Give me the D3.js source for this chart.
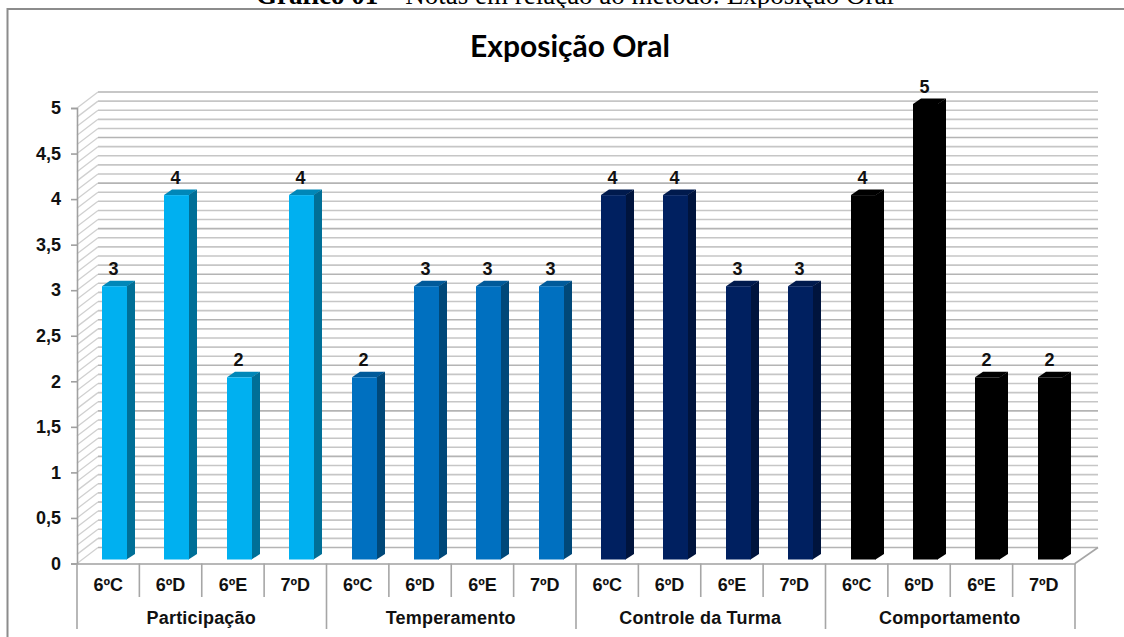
<!DOCTYPE html>
<html>
<head>
<meta charset="utf-8">
<script src="https://cdn.jsdelivr.net/npm/d3@7"></script>
<style>
  html, body { margin: 0; padding: 0; background: #fff; overflow: hidden; }
  text { font-family: "Liberation Sans", Arial, sans-serif; font-weight: bold; fill: #111; }
</style>
</head>
<body>
<div id="chart"></div>
<script>
const groups = ["Participação", "Temperamento", "Controle da Turma", "Comportamento"];
const classes = ["6ºC", "6ºD", "6ºE", "7ºD"];
const participacao = [3, 4, 2, 4];
const temperamento = [2, 3, 3, 3];
const controle = [4, 4, 3, 3];
const comportamento = [4, 5, 2, 2];
const yTicks = [0, 0.5, 1, 1.5, 2, 2.5, 3, 3.5, 4, 4.5, 5];
const minorTicks = d3.range(0, 51).map(d => d / 10);

// front, side and top colour of each group
const fronts = ["#00b0f0", "#0070c0", "#002060", "#000000"];
const sides = ["#006f97", "#004879", "#00143d", "#000000"];
const tops = ["#0087b8", "#005a9a", "#001a4d", "#000000"];

const seriesValues = [participacao, temperamento, controle, comportamento];

const svgWidth = 1124,
  svgHeight = 637,
  left = 77,
  right = 1075,
  floorY = 563.5,
  topY = 108,
  depthX = 21,
  depthY = -16,
  barW = 25,
  barDepthX = 8,
  barDepthY = -5.5,
  barLift = -4;

const rows = [];
groups.forEach((g, gi) => {
  classes.forEach((c, ci) => {
    rows.push({ key: g + "|" + c, group: g, gi: gi, label: c, value: seriesValues[gi][ci] });
  });
});

const x = d3.scaleBand().domain(rows.map(d => d.key)).range([left, right]).padding(0);
const y = d3.scaleLinear().domain([0, 5]).range([floorY, topY]);

const svg = d3.select("#chart").append("svg")
  .attr("width", svgWidth)
  .attr("height", svgHeight);

// caption cut off by the page edge, frame without a right side
svg.append("text")
  .attr("x", 256)
  .attr("y", 4)
  .style("font-family", "'Liberation Serif', serif")
  .style("font-size", "27px")
  .style("font-weight", "normal")
  .style("fill", "#000")
  .html('<tspan font-weight="bold">Gráfico 01</tspan> – Notas em relação ao método: Exposição Oral');

svg.append("path")
  .attr("d", "M7.5,637V9H1124")
  .attr("fill", "none")
  .attr("stroke", "#8c8c8c")
  .attr("stroke-width", 2);

svg.append("text")
  .attr("x", 570)
  .attr("y", 57)
  .attr("text-anchor", "middle")
  .style("font-family", "Lato, sans-serif")
  .style("font-size", "30px")
  .style("fill", "#000")
  .text("Exposição Oral");

// wall gridlines, side wall and floor
const grid = svg.append("g");
minorTicks.forEach(t => {
  const major = Math.round(t * 10) % 5 === 0;
  grid.append("path")
    .attr("d", `M${left},${y(t)}L${left + depthX},${y(t) + depthY}`)
    .attr("fill", "none")
    .attr("stroke", "#d0d0d0")
    .attr("stroke-width", 1.3);
  grid.append("path")
    .attr("d", `M${left + depthX},${y(t) + depthY}H${right + depthX + 2}`)
    .attr("fill", "none")
    .attr("stroke", major ? "#b4b4b4" : "#c6c6c6")
    .attr("stroke-width", 1.6);
});
grid.append("path")
  .attr("d", `M${right},${floorY}L${right + depthX + 2},${floorY + depthY}`)
  .attr("fill", "none")
  .attr("stroke", "#a6a6a6")
  .attr("stroke-width", 1.6);

// bars
const bars = svg.append("g").selectAll("g").data(rows).enter().append("g");
const bx0 = d => Math.round(x(d.key) + 25);
const by0 = d => y(d.value) + barLift;
const bottom = y(0) + barLift;

bars.append("path")
  .attr("fill", d => tops[d.gi])
  .attr("d", d => `M${bx0(d)},${by0(d)}l${barDepthX},${barDepthY}h${barW}l${-barDepthX},${-barDepthY}Z`);
bars.append("path")
  .attr("fill", d => sides[d.gi])
  .attr("d", d => `M${bx0(d) + barW - 0.5},${by0(d)}l${barDepthX + 0.5},${barDepthY}V${bottom + barDepthY}l${-barDepthX - 0.5},${-barDepthY}Z`);
bars.append("rect")
  .attr("fill", d => fronts[d.gi])
  .attr("x", d => bx0(d))
  .attr("y", d => by0(d))
  .attr("width", barW)
  .attr("height", d => bottom - by0(d));
bars.append("text")
  .attr("x", d => bx0(d) + barW / 2 - 1)
  .attr("y", d => by0(d) - 11)
  .attr("text-anchor", "middle")
  .style("font-size", "18px")
  .text(d => d.value);

// y axis
const yAxis = d3.axisLeft(y)
  .tickValues(yTicks)
  .tickSize(6)
  .tickPadding(10)
  .tickFormat(d => String(d).replace(".", ","));
const yG = svg.append("g").attr("transform", `translate(${left},0)`).call(yAxis);
yG.selectAll("path, line").attr("stroke", "#a0a0a0").attr("stroke-width", 1.6);
yG.selectAll("text").style("font-size", "18px").attr("font-family", null);

// x axis, two levels of labels
const xAxis = d3.axisBottom(x)
  .tickSize(0)
  .tickPadding(15)
  .tickFormat(k => k.split("|")[1]);
const xG = svg.append("g").attr("transform", `translate(0,${floorY})`).call(xAxis);
xG.select("path").attr("stroke", "#a0a0a0").attr("stroke-width", 1.6);
xG.selectAll("text").style("font-size", "18px").attr("font-family", null);

const sep = svg.append("g");
rows.forEach((d, i) => {
  sep.append("line")
    .attr("x1", x(d.key)).attr("x2", x(d.key))
    .attr("y1", floorY)
    .attr("y2", i % classes.length === 0 ? 629 : 597);
});
sep.append("line").attr("x1", right).attr("x2", right).attr("y1", floorY).attr("y2", 629);
sep.selectAll("line").attr("stroke", "#a6a6a6").attr("stroke-width", 1.6);

groups.forEach((g, gi) => {
  const k = g + "|" + classes[0];
  svg.append("text")
    .attr("x", x(k) + x.bandwidth() * classes.length / 2 - 0.5)
    .attr("y", 624)
    .attr("text-anchor", "middle")
    .style("font-size", "18px")
    .style("letter-spacing", "0.2px")
    .text(g);
});
</script>
</body>
</html>
